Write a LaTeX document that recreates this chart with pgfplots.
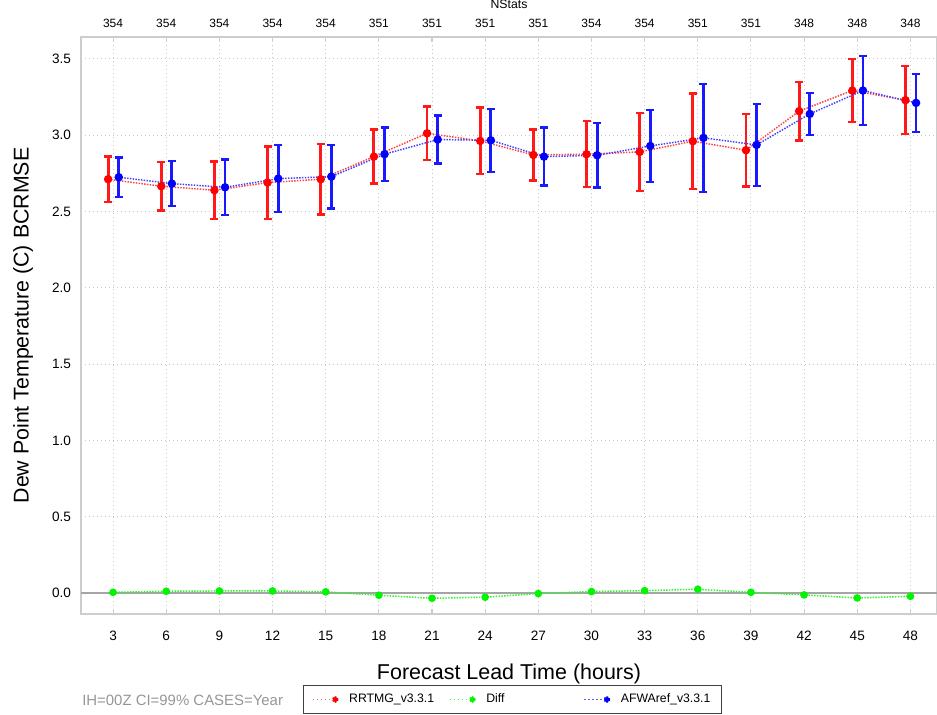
\documentclass[border=0pt]{standalone}
\usepackage{pgfplots}
\pgfplotsset{compat=1.18}
\usepackage{pgfplotstable}
\usepackage{fontspec}
\setmainfont{Liberation Sans}

\definecolor{gridgray}{RGB}{200,200,200}
\definecolor{framegray}{RGB}{205,205,205}
\definecolor{zerogray}{RGB}{165,165,165}
\definecolor{notegray}{RGB}{150,150,150}
\definecolor{rred}{RGB}{255,0,0}
\definecolor{ggreen}{RGB}{0,245,0}
\definecolor{bblue}{RGB}{0,0,255}

% lead time, RRTMG BCRMSE and CI half-width, AFWAref BCRMSE and CI half-width, pairwise difference
\pgfplotstableread{
h  red   rede  blue  bluee diff
3  2.711 0.149 2.724 0.129  0.004
6  2.665 0.160 2.682 0.147  0.011
9  2.639 0.189 2.658 0.183  0.013
12 2.689 0.237 2.715 0.220  0.013
15 2.711 0.232 2.728 0.208  0.007
18 2.859 0.177 2.875 0.174 -0.015
21 3.012 0.175 2.971 0.157 -0.035
24 2.962 0.218 2.966 0.207 -0.028
27 2.870 0.168 2.859 0.190 -0.004
30 2.875 0.216 2.868 0.211  0.009
33 2.890 0.255 2.929 0.236  0.015
36 2.960 0.312 2.982 0.354  0.024
39 2.901 0.237 2.936 0.269  0.004
42 3.157 0.192 3.139 0.137 -0.013
45 3.292 0.205 3.292 0.227 -0.033
48 3.229 0.222 3.211 0.191 -0.022
}\stats

\pgfplotsset{
  leadframe/.style={
    at={(60.75bp,75.75bp)}, anchor=south west,
    scale only axis, width=642bp, height=432.75bp,
    xmin=1.19, xmax=49.5, ymin=-0.138, ymax=3.643,
  },
}

\begin{document}
\begin{tikzpicture}[x=0.75bp,y=0.75bp]
\useasboundingbox (0,0) rectangle (937,715);

% sample counts along the top edge
\begin{axis}[
  leadframe, clip=false,
  axis x line*=top, axis y line=none,
  xtick={3,6,...,48},
  xticklabels={354,354,354,354,354,351,351,351,351,354,354,351,351,348,348,348},
  xticklabel style={font=\fontsize{9bp}{10bp}\selectfont, yshift=3.5bp},
  major tick length=0pt,
  axis line style={draw=none},
]
\addplot[draw=none] coordinates {(3,0)};
\node[font=\fontsize{9.2bp}{10bp}\selectfont, anchor=base] at (rel axis cs:0.5,1) [yshift=21bp] {NStats};
\end{axis}

\begin{axis}[
  leadframe,
  axis line style={framegray, line width=1.6bp},
  xtick={3,6,...,48},
  ytick={0,0.5,...,3.5},
  yticklabel style={/pgf/number format/fixed, /pgf/number format/fixed zerofill, /pgf/number format/precision=1, xshift=-4bp},
  /pgf/number format/assume math mode=true,
  ticklabel style={font=\fontsize{10.2bp}{11bp}\selectfont},
  xticklabel style={yshift=-9bp},
  tick align=inside,
  x tick style={framegray, line width=0.8bp},
  major tick length=4bp,
  y tick style={draw=none},
  grid=major,
  major grid style={gridgray, line width=0.7bp, dash pattern=on 0.8bp off 2.2bp},
  extra y ticks={0},
  extra y tick labels={},
  extra y tick style={grid=major, major grid style={solid, zerogray, line width=1.3bp}},
  xlabel={Forecast Lead Time (hours)},
  ylabel={Dew Point Temperature (C) BCRMSE},
  xlabel style={font=\fontsize{16.1bp}{18bp}\selectfont, yshift=-11bp},
  ylabel style={font=\fontsize{16bp}{18bp}\selectfont, yshift=7.4bp},
  legend columns=3,
  legend style={
    at={(0.2593,-0.1231)}, anchor=north west,
    draw=black!75, line width=0.6bp,
    font=\fontsize{9.2bp}{11bp}\selectfont,
    inner xsep=6.5bp, inner ysep=4.5bp,
    /tikz/every even column/.append style={column sep=6bp},
    /tikz/every odd column/.append style={column sep=6bp},
  },
  legend cell align=left,
]

\addplot[
  rred!75, densely dotted, line width=1.1bp,
  mark=*, mark size=2.6bp, mark options={solid, fill=rred, draw=rred},
  legend image code/.code={
    \draw[rred!60, line width=0.9bp, dash pattern=on 1.2bp off 1.8bp] (0bp,0bp) -- (17bp,0bp);
    \fill[rred] (17bp,0bp) circle (1.9bp);},
  error bars/.cd, y dir=both, y explicit,
  error bar style={solid, rred!90, line width=2.1bp},
  error mark options={rotate=90, rred!90, line width=1.8bp, mark size=3bp},
] table[x expr=\thisrow{h}-0.28, y=red, y error=rede] {\stats};
\addlegendentry{\makebox[67bp][l]{RRTMG\_v3.3.1}}

\addplot[
  ggreen!85, densely dotted, line width=1.1bp,
  mark=*, mark size=2.3bp, mark options={solid, fill=ggreen, draw=ggreen},
  legend image code/.code={
    \draw[ggreen!70, line width=0.9bp, dash pattern=on 1.2bp off 1.8bp] (0bp,0bp) -- (17bp,0bp);
    \fill[ggreen] (17bp,0bp) circle (1.9bp);}
] table[x=h, y=diff] {\stats};
\addlegendentry{\makebox[65bp][l]{Diff}}

\addplot[
  bblue!75, densely dotted, line width=1.1bp,
  mark=*, mark size=2.6bp, mark options={solid, fill=bblue, draw=bblue},
  legend image code/.code={
    \draw[bblue!60, line width=0.9bp, dash pattern=on 1.2bp off 1.8bp] (0bp,0bp) -- (17bp,0bp);
    \fill[bblue] (17bp,0bp) circle (1.9bp);},
  error bars/.cd, y dir=both, y explicit,
  error bar style={solid, bblue!90, line width=2.1bp},
  error mark options={rotate=90, bblue!90, line width=1.8bp, mark size=3bp},
] table[x expr=\thisrow{h}+0.32, y=blue, y error=bluee] {\stats};
\addlegendentry{AFWAref\_v3.3.1}

\end{axis}

\node[anchor=west, text=notegray, font=\fontsize{11.2bp}{12bp}\selectfont, inner sep=0pt] at (82,15) {IH=00Z CI=99\% CASES=Year};
\end{tikzpicture}
\end{document}
